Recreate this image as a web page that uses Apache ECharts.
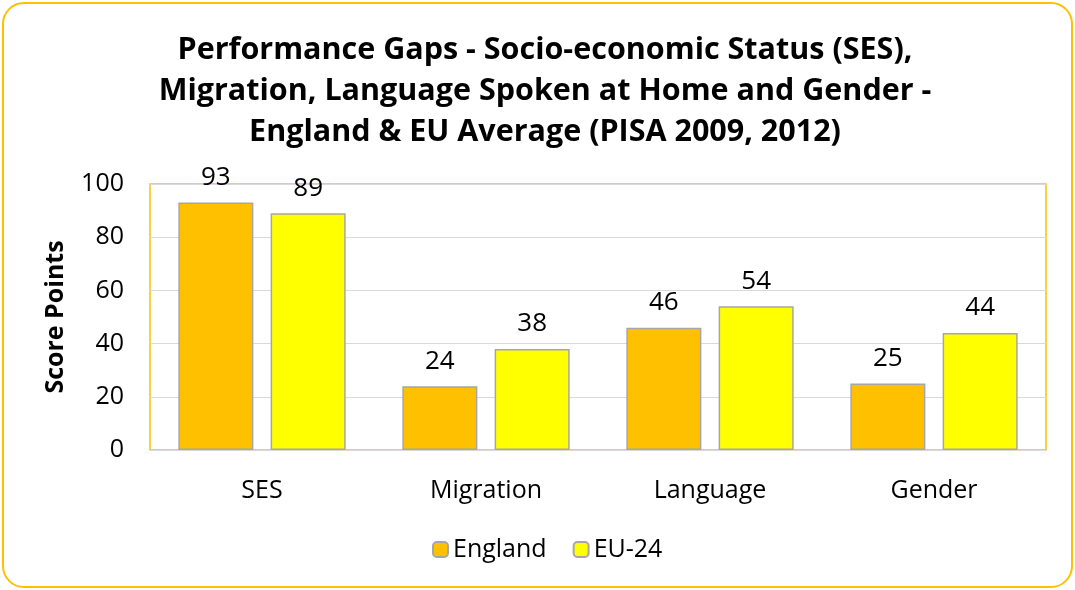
<!DOCTYPE html>
<html><head><meta charset="utf-8">
<script src="https://cdn.jsdelivr.net/npm/echarts@6/dist/echarts.min.js"></script>
<style>
html,body{margin:0;padding:0;background:#fff;}
#wrap{position:absolute;left:2px;top:2px;width:1067px;height:582px;border:2px solid #FFC000;border-radius:22px;}
#c{position:absolute;left:0;top:0;width:1075px;height:590px;}
</style></head><body>
<div id="wrap"></div>
<div id="c"></div>
<script>
const categories = ['SES','Migration','Language','Gender'];
const england = [93,24,46,25];
const eu24 = [89,38,54,44];
const yTicks = [0,20,40,60,80,100];

const chart = echarts.init(document.getElementById('c'));
const font = 'Open Sans, Noto Sans, sans-serif';
chart.setOption({
  animation:false,
  title:{
    text:'Performance Gaps - Socio-economic Status (SES),\nMigration, Language Spoken at Home and Gender -\nEngland & EU Average (PISA 2009, 2012)',
    left:540, top:25, textAlign:'center',
    textStyle:{fontFamily:font,fontWeight:'bold',fontSize:30.5,lineHeight:41,color:'#000'}
  },
  legend:{
    data:['England','EU-24'], left:427, top:532,
    itemWidth:15, itemHeight:15, itemGap:26,
    textStyle:{fontFamily:font,fontSize:25,color:'#000'}
  },
  grid:{left:150,right:29,top:184,bottom:140,show:true,borderColor:'#FFC000',borderWidth:1.5},
  xAxis:{
    type:'category', data:categories,
    axisLine:{lineStyle:{color:'#d9d9d9'}},
    axisTick:{show:false},
    axisLabel:{fontFamily:font,fontSize:25,color:'#000',margin:28}
  },
  yAxis:{
    type:'value', min:0, max:100, interval:20,
    name:'Score Points', nameLocation:'middle', nameGap:82,
    nameTextStyle:{fontFamily:font,fontWeight:'bold',fontSize:25,color:'#000'},
    splitLine:{lineStyle:{color:'#d9d9d9'}},
    axisLine:{show:false}, axisTick:{show:false},
    axisLabel:{fontFamily:font,fontSize:25,color:'#000',margin:26,
      formatter:v=>yTicks.includes(v)?String(v):''}
  },
  series:[
    {name:'England',type:'bar',data:england,barWidth:'33.5%',barGap:'23%',
     itemStyle:{color:'#FFC000',borderColor:'#A6A6A6',borderWidth:1.5},
     label:{show:true,position:'top',distance:12,fontFamily:font,fontSize:26,color:'#000'}},
    {name:'EU-24',type:'bar',data:eu24,barWidth:'33.5%',barGap:'23%',
     itemStyle:{color:'#FFFF00',borderColor:'#A6A6A6',borderWidth:1.5},
     label:{show:true,position:'top',distance:12,fontFamily:font,fontSize:26,color:'#000'}}
  ]
});
</script>
</body></html>
